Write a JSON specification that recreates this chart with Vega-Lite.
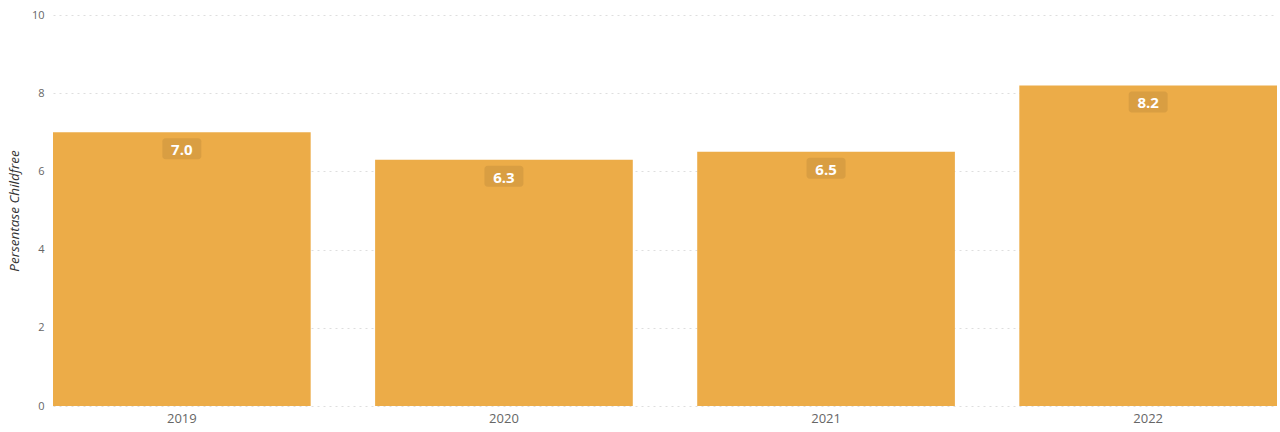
{
  "$schema": "https://vega.github.io/schema/vega-lite/v6.json",
  "width": 1224,
  "height": 391,
  "autosize": "none",
  "padding": {"left": 53, "top": 15, "right": 3, "bottom": 26},
  "config": {
    "font": "Open Sans",
    "view": {"stroke": null}
  },
  "data": {
    "values": [
      {"tahun": "2019", "persen": 7.0},
      {"tahun": "2020", "persen": 6.3},
      {"tahun": "2021", "persen": 6.5},
      {"tahun": "2022", "persen": 8.2}
    ]
  },
  "encoding": {
    "x": {
      "field": "tahun",
      "type": "nominal",
      "scale": {"paddingInner": 0.2, "paddingOuter": 0},
      "axis": {
        "title": null,
        "labelAngle": 0,
        "labelFontSize": 13,
        "labelColor": "#666666",
        "labelPadding": 6,
        "domain": false,
        "ticks": false
      }
    }
  },
  "layer": [
    {
      "mark": {"type": "bar", "color": "#ECAC48"},
      "encoding": {
        "y": {
          "field": "persen",
          "type": "quantitative",
          "scale": {"domain": [0, 10]},
          "axis": {
            "title": "Persentase Childfree",
            "titleFontStyle": "italic",
            "titleFontWeight": "normal",
            "titleFontSize": 13.5,
            "titleColor": "#333333",
            "titlePadding": 10,
            "values": [0, 2, 4, 6, 8, 10],
            "labelFontSize": 11,
            "labelColor": "#666666",
            "labelPadding": 9,
            "domain": false,
            "ticks": false,
            "grid": true,
            "gridColor": "#dedede",
            "gridDash": [2, 4],
            "gridWidth": 1
          }
        }
      }
    },
    {
      "mark": {"type": "bar", "width": 39, "cornerRadius": 3, "color": "#000000", "opacity": 0.08, "yOffset": 6, "y2Offset": 27},
      "encoding": {
        "y": {"field": "persen", "type": "quantitative"},
        "y2": {"field": "persen"}
      }
    },
    {
      "mark": {"type": "text", "color": "#ffffff", "fontWeight": "bold", "fontSize": 15, "baseline": "middle", "dy": 18},
      "encoding": {
        "y": {"field": "persen", "type": "quantitative"},
        "text": {"field": "persen", "type": "quantitative", "format": ".1f"}
      }
    }
  ]
}
